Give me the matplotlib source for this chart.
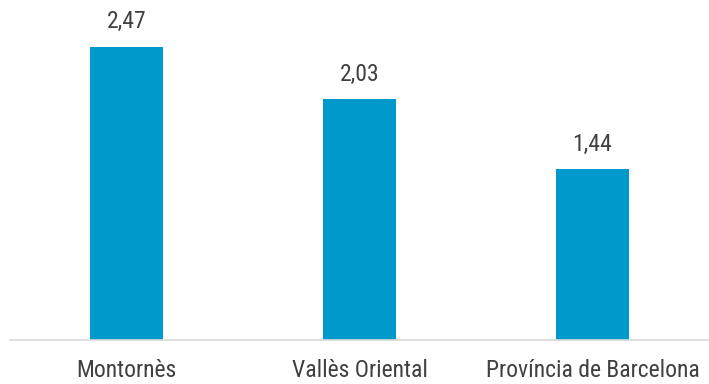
import matplotlib
matplotlib.use("Agg")
import matplotlib.pyplot as plt

categories = ["Montornès", "Vallès Oriental", "Província de Barcelona"]
values = [2.47, 2.03, 1.44]
value_labels = ["2,47", "2,03", "1,44"]

plt.rcParams["font.family"] = ["Roboto Condensed", "DejaVu Sans"]

fig = plt.figure(figsize=(7.09, 3.84), dpi=100)
ax = fig.add_axes([10 / 709, 44 / 384, 699 / 709, 340 / 384])

x = range(len(categories))
bars = ax.bar(x, values, width=0.31, color="#0099CC", zorder=2)

for b, lab in zip(bars, value_labels):
    ax.text(b.get_x() + b.get_width() / 2, b.get_height() + 0.115, lab,
            ha="center", va="bottom", fontsize=17, color="#404040")

ax.set_xlim(-0.5, 2.5)
ax.set_ylim(0, 2.867)
ax.set_xticks(list(x))
ax.set_xticklabels(categories, fontsize=17, color="#404040")
ax.tick_params(axis="x", length=0, pad=14)
ax.set_yticks([])
for s in ["top", "right", "left"]:
    ax.spines[s].set_visible(False)
ax.spines["bottom"].set_color("#D9D9D9")
ax.spines["bottom"].set_linewidth(1.2)

fig.savefig("out.png", dpi=100)
